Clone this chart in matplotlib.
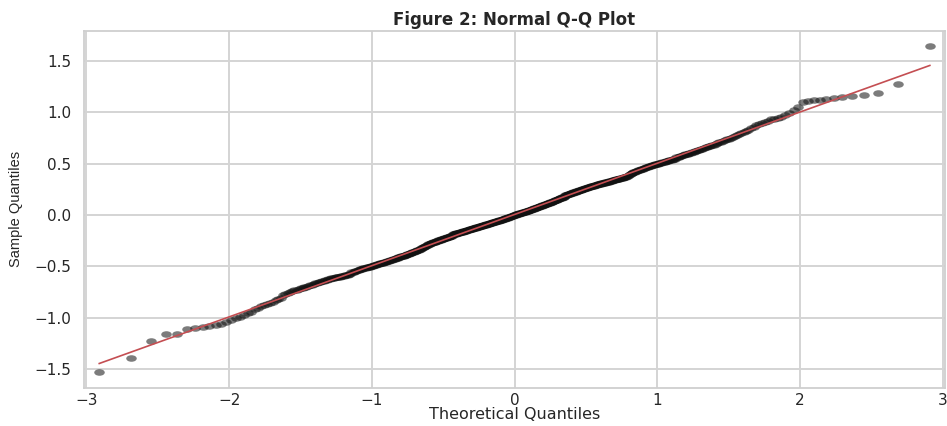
import numpy as np
import matplotlib
matplotlib.use("Agg")
import matplotlib.pyplot as plt
from matplotlib.path import Path
from matplotlib.transforms import Affine2D
from statistics import NormalDist

# Sorted sample values
sample_values = [
    -1.53, -1.39, -1.23, -1.16, -1.16, -1.11, -1.10, -1.09, -1.08, -1.07, -1.06, -1.04, -1.02, -1.00, -0.99, -0.97, -0.95, -0.94, -0.92, -0.91,
    -0.89, -0.88, -0.87, -0.86, -0.85, -0.83, -0.82, -0.81, -0.78, -0.77, -0.76, -0.75, -0.74, -0.73, -0.73, -0.72, -0.71, -0.71, -0.70, -0.70,
    -0.69, -0.68, -0.68, -0.67, -0.66, -0.66, -0.65, -0.65, -0.64, -0.64, -0.63, -0.63, -0.62, -0.62, -0.61, -0.61, -0.61, -0.60, -0.60, -0.60,
    -0.60, -0.59, -0.59, -0.59, -0.58, -0.58, -0.58, -0.57, -0.57, -0.56, -0.56, -0.56, -0.55, -0.55, -0.54, -0.54, -0.53, -0.53, -0.53, -0.52,
    -0.52, -0.52, -0.51, -0.51, -0.51, -0.51, -0.50, -0.50, -0.50, -0.49, -0.49, -0.49, -0.48, -0.48, -0.48, -0.47, -0.47, -0.47, -0.47, -0.46,
    -0.46, -0.46, -0.45, -0.45, -0.45, -0.44, -0.44, -0.44, -0.43, -0.43, -0.43, -0.42, -0.42, -0.42, -0.41, -0.41, -0.41, -0.40, -0.40, -0.40,
    -0.40, -0.39, -0.39, -0.39, -0.38, -0.38, -0.38, -0.37, -0.37, -0.37, -0.36, -0.36, -0.36, -0.35, -0.35, -0.35, -0.34, -0.34, -0.34, -0.33,
    -0.33, -0.32, -0.32, -0.31, -0.31, -0.31, -0.30, -0.30, -0.29, -0.29, -0.28, -0.28, -0.28, -0.27, -0.27, -0.27, -0.26, -0.26, -0.26, -0.26,
    -0.25, -0.25, -0.25, -0.24, -0.24, -0.24, -0.24, -0.23, -0.23, -0.23, -0.23, -0.22, -0.22, -0.22, -0.22, -0.21, -0.21, -0.21, -0.21, -0.20,
    -0.20, -0.20, -0.20, -0.19, -0.19, -0.19, -0.19, -0.19, -0.18, -0.18, -0.18, -0.18, -0.18, -0.17, -0.17, -0.17, -0.17, -0.17, -0.16, -0.16,
    -0.16, -0.16, -0.16, -0.15, -0.15, -0.15, -0.15, -0.14, -0.14, -0.14, -0.14, -0.14, -0.13, -0.13, -0.13, -0.13, -0.13, -0.12, -0.12, -0.12,
    -0.12, -0.12, -0.11, -0.11, -0.11, -0.11, -0.11, -0.10, -0.10, -0.10, -0.10, -0.10, -0.09, -0.09, -0.09, -0.09, -0.09, -0.08, -0.08, -0.08,
    -0.08, -0.08, -0.07, -0.07, -0.07, -0.07, -0.07, -0.06, -0.06, -0.06, -0.06, -0.06, -0.05, -0.05, -0.05, -0.05, -0.05, -0.04, -0.04, -0.04,
    -0.04, -0.03, -0.03, -0.03, -0.03, -0.03, -0.02, -0.02, -0.02, -0.02, -0.01, -0.01, -0.01, -0.01, 0.00, 0.00, 0.00, 0.00, 0.01, 0.01,
    0.01, 0.01, 0.01, 0.02, 0.02, 0.02, 0.02, 0.02, 0.03, 0.03, 0.03, 0.03, 0.03, 0.04, 0.04, 0.04, 0.04, 0.04, 0.05, 0.05,
    0.05, 0.05, 0.06, 0.06, 0.06, 0.06, 0.07, 0.07, 0.07, 0.07, 0.08, 0.08, 0.08, 0.08, 0.09, 0.09, 0.09, 0.09, 0.10, 0.10,
    0.10, 0.10, 0.11, 0.11, 0.11, 0.11, 0.12, 0.12, 0.12, 0.12, 0.13, 0.13, 0.13, 0.13, 0.14, 0.14, 0.14, 0.15, 0.15, 0.15,
    0.15, 0.16, 0.16, 0.16, 0.17, 0.17, 0.17, 0.17, 0.18, 0.18, 0.18, 0.18, 0.19, 0.19, 0.19, 0.19, 0.20, 0.20, 0.20, 0.20,
    0.21, 0.21, 0.21, 0.21, 0.22, 0.22, 0.22, 0.22, 0.23, 0.23, 0.23, 0.23, 0.24, 0.24, 0.24, 0.24, 0.25, 0.25, 0.25, 0.25,
    0.26, 0.26, 0.26, 0.26, 0.27, 0.27, 0.27, 0.27, 0.28, 0.28, 0.28, 0.28, 0.28, 0.29, 0.29, 0.29, 0.29, 0.30, 0.30, 0.30,
    0.30, 0.30, 0.31, 0.31, 0.31, 0.31, 0.31, 0.32, 0.32, 0.32, 0.32, 0.32, 0.33, 0.33, 0.33, 0.33, 0.34, 0.34, 0.34, 0.34,
    0.35, 0.35, 0.35, 0.35, 0.35, 0.36, 0.36, 0.36, 0.36, 0.37, 0.37, 0.37, 0.37, 0.38, 0.38, 0.39, 0.40, 0.40, 0.41, 0.41,
    0.42, 0.42, 0.42, 0.43, 0.43, 0.44, 0.44, 0.44, 0.45, 0.45, 0.45, 0.46, 0.46, 0.47, 0.47, 0.47, 0.48, 0.48, 0.48, 0.49,
    0.49, 0.49, 0.50, 0.50, 0.50, 0.50, 0.51, 0.51, 0.51, 0.52, 0.52, 0.52, 0.53, 0.53, 0.53, 0.54, 0.54, 0.54, 0.55, 0.55,
    0.55, 0.56, 0.56, 0.56, 0.57, 0.57, 0.58, 0.58, 0.59, 0.59, 0.59, 0.60, 0.60, 0.61, 0.61, 0.62, 0.62, 0.63, 0.63, 0.64,
    0.64, 0.65, 0.66, 0.66, 0.67, 0.67, 0.68, 0.68, 0.69, 0.70, 0.71, 0.71, 0.72, 0.73, 0.74, 0.74, 0.75, 0.76, 0.77, 0.78,
    0.79, 0.80, 0.81, 0.82, 0.83, 0.85, 0.86, 0.88, 0.89, 0.90, 0.91, 0.92, 0.93, 0.93, 0.94, 0.95, 0.97, 0.99, 1.02, 1.05,
    1.10, 1.11, 1.12, 1.12, 1.13, 1.14, 1.15, 1.16, 1.17, 1.19, 1.28, 1.65,
]

x_ticks = [-3, -2, -1, 0, 1, 2, 3]
y_ticks = [-1.5, -1.0, -0.5, 0.0, 0.5, 1.0, 1.5]
x_tick_labels = ["\u22123", "\u22122", "\u22121", "0", "1", "2", "3"]
y_tick_labels = ["\u22121.5", "\u22121.0", "\u22120.5", "0.0", "0.5", "1.0", "1.5"]
title_text = "Figure 2: Normal Q-Q Plot"
x_label = "Theoretical Quantiles"
y_label = "Sample Quantiles"

# Q-Q computation: normal quantiles at plotting positions i/(n+1)
sample = np.sort(np.array(sample_values))
n = len(sample)
nd = NormalDist()
theoretical = np.array([nd.inv_cdf(i / (n + 1)) for i in range(1, n + 1)])
slope, intercept = np.polyfit(theoretical, sample, 1)

fig = plt.figure(figsize=(9.47, 4.26), dpi=100)
ax = fig.add_axes([0.0882, 0.0899, 0.9097, 0.8381])
ax.set_facecolor("white")

# slightly flattened circular marker
ellipse = Path.unit_circle().transformed(Affine2D().scale(1.0, 0.62))

ax.plot(theoretical, sample, linestyle="none", marker=ellipse, markersize=7.6,
        markerfacecolor="#111111", markeredgecolor="none", alpha=0.55, zorder=3)
ax.plot(theoretical, intercept + slope * theoretical, color="#C44E52",
        linewidth=1.2, zorder=4)

ax.set_xlim(-3.02, 3.016)
ax.set_ylim(-1.682, 1.795)
ax.set_xticks(x_ticks)
ax.set_yticks(y_ticks)
ax.set_xticklabels(x_tick_labels)
ax.set_yticklabels(y_tick_labels)

ax.grid(True, color="#d4d4d4", linewidth=1.4, zorder=0)
ax.set_axisbelow(True)
for s in ax.spines.values():
    s.set_color("#cfcfcf")
    s.set_linewidth(1.3)

ax.tick_params(axis="both", length=0, labelcolor="#262626", labelsize=11)
ax.tick_params(axis="x", pad=4)
ax.tick_params(axis="y", pad=9)
for lab in ax.get_xticklabels() + ax.get_yticklabels():
    lab.set_family("DejaVu Sans")

ax.set_title(title_text, fontsize=12, fontweight="bold", color="#262626",
             family="DejaVu Sans", pad=4)
ax.set_xlabel(x_label, fontsize=11.5, color="#262626", family="DejaVu Sans", labelpad=-1)
ax.set_ylabel(y_label, fontsize=10.5, color="#262626",
              family=["Liberation Sans", "DejaVu Sans"], labelpad=8)

fig.savefig("out.png", dpi=100, facecolor="white")
